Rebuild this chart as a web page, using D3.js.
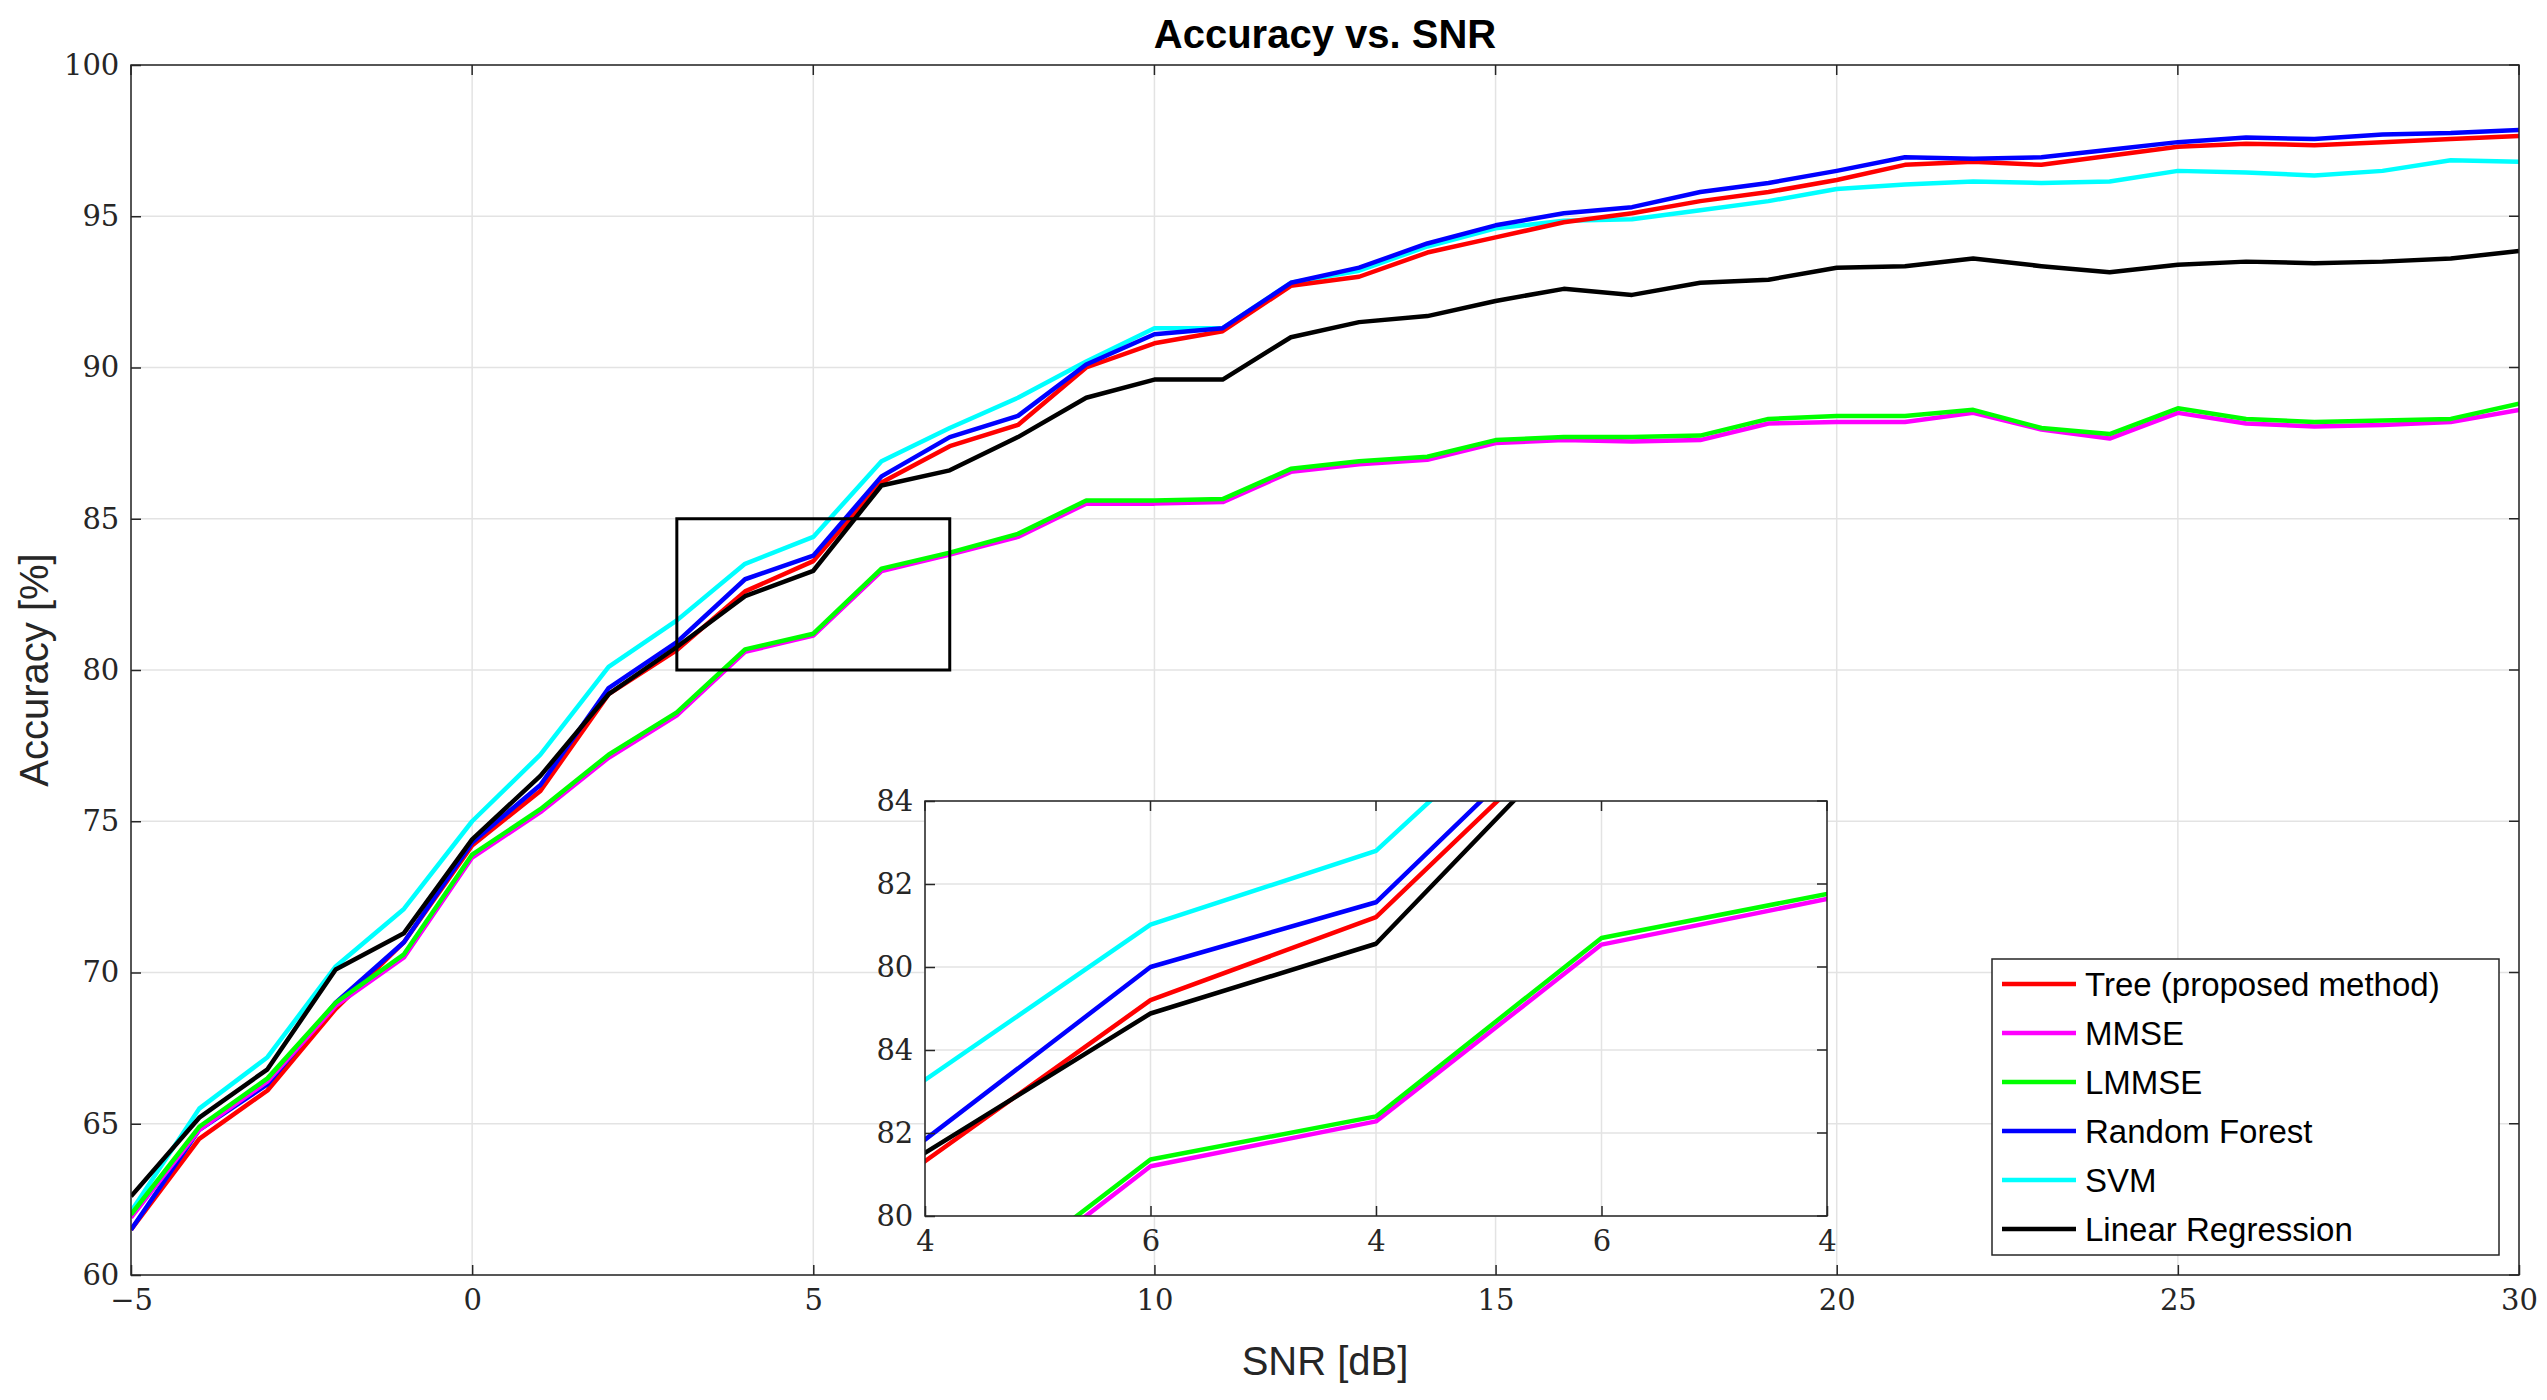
<!DOCTYPE html>
<html><head><meta charset="utf-8">
<script src="https://cdn.jsdelivr.net/npm/d3@7"></script>
<style>body{margin:0;background:#fff}</style>
</head><body>
<svg id="chart" width="2547" height="1400"></svg>
<script>
var snr= d3.range(-5, 31);
var tree= [61.5,64.5,66.1,68.8,71.0,74.2,76.0,79.2,80.66,82.6,83.6,86.2,87.4,88.1,90.0,90.8,91.2,92.7,93.0,93.8,94.3,94.8,95.1,95.5,95.8,96.2,96.7,96.8,96.7,97.0,97.3,97.4,97.35,97.45,97.55,97.65];
var mmse= [61.9,64.8,66.4,68.9,70.5,73.8,75.3,77.1,78.5,80.6,81.14,83.27,83.82,84.4,85.5,85.5,85.55,86.55,86.8,86.95,87.5,87.6,87.55,87.6,88.15,88.2,88.2,88.5,87.95,87.65,88.5,88.15,88.05,88.1,88.2,88.6];
var lmmse= [62.0,64.9,66.5,69.0,70.6,73.9,75.4,77.2,78.6,80.68,81.2,83.35,83.88,84.5,85.6,85.6,85.65,86.65,86.9,87.05,87.6,87.7,87.7,87.75,88.3,88.4,88.4,88.6,88.0,87.8,88.65,88.3,88.2,88.25,88.3,88.8];
var forest= [61.5,64.8,66.3,69.0,71.0,74.3,76.2,79.4,80.92,83.0,83.78,86.4,87.7,88.4,90.1,91.1,91.3,92.8,93.3,94.1,94.7,95.1,95.3,95.8,96.1,96.5,96.95,96.9,96.95,97.2,97.45,97.6,97.55,97.7,97.75,97.85];
var svm= [62.1,65.5,67.2,70.2,72.1,75.0,77.2,80.1,81.64,83.51,84.4,86.9,88.0,89.0,90.2,91.3,91.3,92.8,93.2,94.0,94.6,94.85,94.9,95.2,95.5,95.9,96.05,96.15,96.1,96.15,96.5,96.45,96.35,96.5,96.85,96.8];
var linreg= [62.6,65.2,66.8,70.1,71.3,74.4,76.5,79.2,80.76,82.44,83.28,86.1,86.6,87.7,89.0,89.6,89.6,91.0,91.5,91.7,92.2,92.6,92.4,92.8,92.9,93.3,93.35,93.6,93.35,93.15,93.4,93.5,93.45,93.5,93.6,93.85];

var seriesNames= ["Tree (proposed method)","MMSE","LMMSE","Random Forest","SVM","Linear Regression"];
var seriesColors= ["#ff0000","#ff00ff","#00ff00","#0000ff","#00ffff","#000000"];
var seriesData= [tree, mmse, lmmse, forest, svm, linreg];
var drawOrder= [4,0,3,5,1,2];

var xTicks= [-5,0,5,10,15,20,25,30];
var yTicks= [60,65,70,75,80,85,90,95,100];
var insetXTicks= [3,4,5,6,7];
var insetXLabels= ["4","6","4","6","4"];
var insetYTicks= [80,81,82,83,84,85];
var insetYLabels= ["80","82","84","80","82","84"];

var svg= d3.select("#chart");
var serif= "'DejaVu Serif','Liberation Serif',serif";
var sans= "'Liberation Sans',Arial,sans-serif";

function drawPanel(g, x, y, xt, xl, yt, yl, fs, clipId){
	var x0= x.range()[0], x1= x.range()[1], y0= y.range()[0], y1= y.range()[1];
	g.append("rect").attr("x", x0).attr("y", y1).attr("width", x1-x0).attr("height", y0-y1).attr("fill", "#fff");
	// grid
	g.selectAll(null).data(xt).enter().append("line")
		.attr("x1", (d) => x(d)).attr("x2", (d) => x(d)).attr("y1", y1).attr("y2", y0)
		.attr("stroke", "#e3e3e3").attr("stroke-width", 1.5);
	g.selectAll(null).data(yt).enter().append("line")
		.attr("y1", (d) => y(d)).attr("y2", (d) => y(d)).attr("x1", x0).attr("x2", x1)
		.attr("stroke", "#e3e3e3").attr("stroke-width", 1.5);
	g.append("clipPath").attr("id", clipId).append("rect")
		.attr("x", x0).attr("y", y1).attr("width", x1-x0).attr("height", y0-y1);
	var line= d3.line().x((d, i) => x(snr[i])).y((d) => y(d));
	var lg= g.append("g").attr("clip-path", "url(#"+clipId+")");
	drawOrder.forEach(function(k){
		lg.append("path").attr("d", line(seriesData[k])).attr("fill", "none")
			.attr("stroke", seriesColors[k]).attr("stroke-width", 4.5).attr("stroke-linejoin", "round");
	});
	// box
	g.append("rect").attr("x", x0).attr("y", y1).attr("width", x1-x0).attr("height", y0-y1)
		.attr("fill", "none").attr("stroke", "#262626").attr("stroke-width", 1.5);
	var xa= g.append("g").attr("transform", "translate(0,"+y0+")")
		.call(d3.axisBottom(x).tickValues(xt).tickFormat((d, i) => xl(d, i)).tickSizeInner(-10).tickSizeOuter(0));
	var ya= g.append("g").attr("transform", "translate("+x0+",0)")
		.call(d3.axisLeft(y).tickValues(yt).tickFormat((d, i) => yl(d, i)).tickSizeInner(-10).tickSizeOuter(0));
	[xa, ya].forEach(function(a){
		a.select(".domain").remove();
		a.selectAll("line").attr("stroke", "#262626").attr("stroke-width", 1.5);
		a.selectAll("text").attr("font-family", serif).attr("font-size", fs).attr("fill", "#262626");
	});
	xa.selectAll("text").attr("dy", "1.1em");
	ya.selectAll("text").attr("dx", "-0.3em");
	// top ticks and right ticks
	g.selectAll(null).data(xt).enter().append("line").attr("x1", (d) => x(d)).attr("x2", (d) => x(d))
		.attr("y1", y1).attr("y2", y1+10).attr("stroke", "#262626").attr("stroke-width", 1.5);
	g.selectAll(null).data(yt).enter().append("line").attr("y1", (d) => y(d)).attr("y2", (d) => y(d))
		.attr("x1", x1).attr("x2", x1-10).attr("stroke", "#262626").attr("stroke-width", 1.5);
}

var x= d3.scaleLinear().domain([-5, 30]).range([131, 2519]);
var y= d3.scaleLinear().domain([60, 100]).range([1275, 65]);
var main= svg.append("g");
drawPanel(main, x, y, xTicks, (d) => d<0 ? "\u2212"+(-d) : d, yTicks, (d) => d, 29, "clipMain");

// zoom rectangle
main.append("rect").attr("x", x(3)).attr("y", y(85)).attr("width", x(7)-x(3)).attr("height", y(80)-y(85))
	.attr("fill", "none").attr("stroke", "#000").attr("stroke-width", 3);

svg.append("text").attr("x", (x(-5)+x(30))/2).attr("y", 48).attr("text-anchor", "middle")
	.attr("font-family", sans).attr("font-weight", "bold").attr("font-size", 40).text("Accuracy vs. SNR");
svg.append("text").attr("x", (x(-5)+x(30))/2).attr("y", 1375).attr("text-anchor", "middle")
	.attr("font-family", sans).attr("font-size", 40).attr("fill", "#262626").text("SNR [dB]");
svg.append("text").attr("transform", "translate(48,"+((y(60)+y(100))/2)+") rotate(-90)").attr("text-anchor", "middle")
	.attr("font-family", sans).attr("font-size", 40).attr("fill", "#262626").text("Accuracy [%]");

// inset
var xi= d3.scaleLinear().domain([3, 7]).range([925, 1827]);
var yi= d3.scaleLinear().domain([80, 85]).range([1216, 801]);
var inset= svg.append("g");
drawPanel(inset, xi, yi, insetXTicks, (d, i) => insetXLabels[i], insetYTicks, (d, i) => insetYLabels[i], 29, "clipInset");

// legend
var lgX= 1992, lgY= 959;
var legend= svg.append("g");
legend.append("rect").attr("x", lgX).attr("y", lgY).attr("width", 507).attr("height", 296)
	.attr("fill", "#fff").attr("stroke", "#262626").attr("stroke-width", 1.5);
seriesNames.forEach(function(name, k){
	var ry= lgY+25+k*49;
	legend.append("line").attr("x1", lgX+10).attr("x2", lgX+84).attr("y1", ry).attr("y2", ry)
		.attr("stroke", seriesColors[k]).attr("stroke-width", 4.5);
	legend.append("text").attr("x", lgX+93).attr("y", ry).attr("dy", "0.35em")
		.attr("font-family", sans).attr("font-size", 33).attr("fill", "#000").text(name);
});
</script>
</body></html>
